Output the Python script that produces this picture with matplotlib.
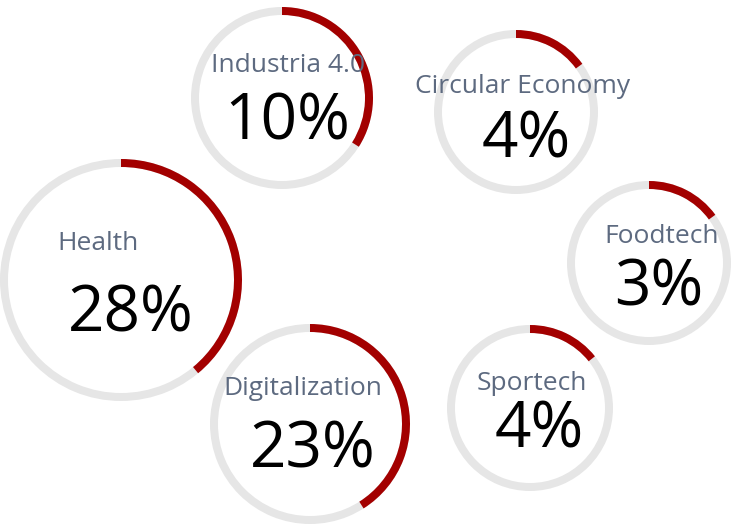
#! /usr/bin/env python3

import matplotlib
matplotlib.use('Agg')
import matplotlib.pyplot as plt
from matplotlib.patches import Wedge

# data
sectors = ['Industria 4.0', 'Circular Economy', 'Health', 'Foodtech',
           'Digitalization', 'Sportech']
shares = [10, 4, 28, 3, 23, 4]
# share of each ring drawn in red (clockwise from 12 o'clock)
arc_fraction = [0.34, 0.15, 0.39, 0.15, 0.41, 0.143]

# layout in pixels (y measured from the top)
cx = [282, 516, 121, 649, 310, 530]
cy = [98, 112, 280, 263, 424, 408]
rad = [91, 82, 121, 82, 100, 83]
lab_dx = [6, 7, -23, 13, -7, 2]
lab_dy = [-26, -19, -30, -20, -29, -18]
pct_dx = [5, 10, 10, 10, 3, 9]
pct_dy = [42, 45, 52, 42, 43, 40]

W, H = 731, 528
ring = 8

fig = plt.figure(figsize=(W/100, H/100), dpi=100)
ax = fig.add_axes([0, 0, 1, 1])
ax.set_xlim(0, W)
ax.set_ylim(0, H)
ax.set_aspect('equal')
ax.axis('off')

for i in range(len(sectors)):
    x = cx[i]
    y = H - cy[i]
    ax.add_patch(Wedge((x, y), rad[i], 0, 360, width=ring,
                       facecolor='#e6e6e6', edgecolor='none'))
    ax.add_patch(Wedge((x, y), rad[i], 90 - 360*arc_fraction[i], 90,
                       width=ring, facecolor='#a30000', edgecolor='none'))
    ax.text(x + lab_dx[i], H - (cy[i] + lab_dy[i]), sectors[i],
            ha='center', va='baseline', fontsize=19,
            family='Open Sans', color='#5d6a80')
    ax.text(x + pct_dx[i], H - (cy[i] + pct_dy[i]), '%d%%' % shares[i],
            ha='center', va='baseline', fontsize=46,
            family='Open Sans', weight='medium', color='black')

plt.savefig('out.png', dpi=100)
